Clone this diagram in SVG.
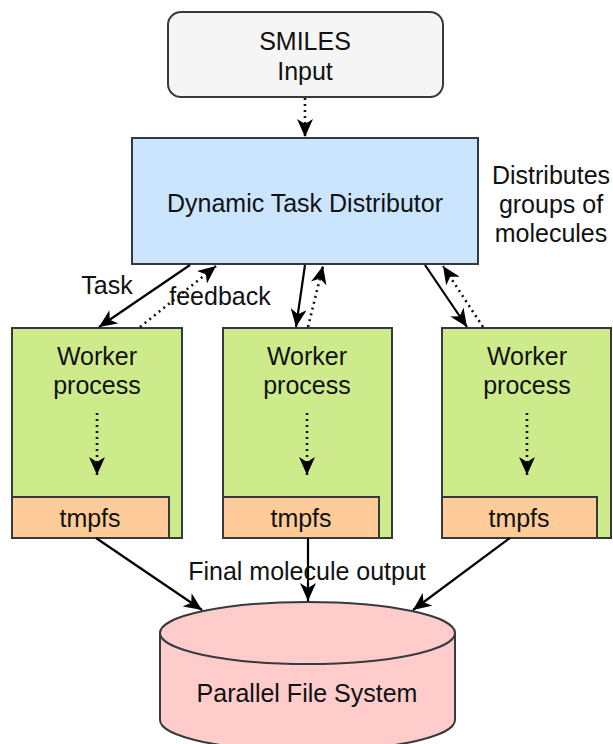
<svg xmlns="http://www.w3.org/2000/svg" width="613" height="744" viewBox="0 0 613 744">
<defs>
<style>
text{font-family:"Liberation Sans",Arial,Helvetica,sans-serif;font-size:25px;fill:#111;text-anchor:middle}
.box{stroke:#36393d;stroke-width:2}
.solid{fill:none;stroke:#000;stroke-width:2.2}
.dot{fill:none;stroke:#111;stroke-width:2.6;stroke-dasharray:2 4}
</style>
<marker id="ah" markerUnits="userSpaceOnUse" markerWidth="20" markerHeight="16" viewBox="0 0 20 16" refX="18" refY="8" orient="auto">
<path d="M0,0 L18,8 L0,16 L5,8 z" fill="#000"/>
</marker>
</defs>
<rect width="613" height="744" fill="#fff"/>

<g id="smiles">
<rect class="box" x="168" y="12" width="275" height="85" rx="13" fill="#f5f5f5" stroke="#4a4a4a"/>
<text x="305" y="50">SMILES</text>
<text x="305" y="80">Input</text>
</g>

<g id="distributor">
<rect class="box" x="132" y="138" width="346" height="126" fill="#cce5ff"/>
<text x="305" y="212">Dynamic Task Distributor</text>
</g>

<g id="note">
<text x="551" y="184">Distributes</text>
<text x="551" y="213">groups of</text>
<text x="551" y="242">molecules</text>
</g>

<g id="worker1">
<rect class="box" x="12" y="328" width="170" height="210" fill="#cdeb8b"/>
<text x="97" y="365">Worker</text>
<text x="97" y="394">process</text>
<rect class="box" x="12" y="497" width="157" height="41" fill="#ffcc99"/>
<text x="90" y="527">tmpfs</text>
<line class="dot" x1="97" y1="413" x2="97" y2="475" marker-end="url(#ah)"/>
</g>

<g id="worker2">
<rect class="box" x="223" y="328" width="169" height="210" fill="#cdeb8b"/>
<text x="307" y="365">Worker</text>
<text x="307" y="394">process</text>
<rect class="box" x="223" y="497" width="156" height="41" fill="#ffcc99"/>
<text x="301" y="527">tmpfs</text>
<line class="dot" x1="307" y1="413" x2="307" y2="475" marker-end="url(#ah)"/>
</g>

<g id="worker3">
<rect class="box" x="442" y="328" width="169" height="210" fill="#cdeb8b"/>
<text x="527" y="365">Worker</text>
<text x="527" y="394">process</text>
<rect class="box" x="442" y="497" width="155" height="41" fill="#ffcc99"/>
<text x="519" y="527">tmpfs</text>
<line class="dot" x1="527" y1="413" x2="527" y2="475" marker-end="url(#ah)"/>
</g>

<g id="pfs">
<path class="box" d="M160,633 L160,720 A147.5,31 0 0 0 455,720 L455,633 A147.5,31 0 0 0 160,633 Z" fill="#ffcccc"/>
<path class="box" d="M160,633 A147.5,31 0 0 0 455,633" fill="none"/>
<text x="307" y="702">Parallel File System</text>
</g>

<g id="connectors">
<line class="dot" x1="305" y1="98" x2="305" y2="137" marker-end="url(#ah)"/>
<line class="solid" x1="190" y1="265" x2="99" y2="327" marker-end="url(#ah)"/>
<line class="dot" x1="140" y1="327" x2="216" y2="266" marker-end="url(#ah)"/>
<line class="solid" x1="305" y1="265" x2="296" y2="327" marker-end="url(#ah)"/>
<line class="dot" x1="308" y1="327" x2="323" y2="266" marker-end="url(#ah)"/>
<line class="solid" x1="425" y1="265" x2="467" y2="327" marker-end="url(#ah)"/>
<line class="dot" x1="483" y1="327" x2="443" y2="266" marker-end="url(#ah)"/>
<line class="solid" x1="96" y1="538" x2="202" y2="610" marker-end="url(#ah)"/>
<line class="solid" x1="308" y1="538" x2="308" y2="601" marker-end="url(#ah)"/>
<line class="solid" x1="510" y1="538" x2="413" y2="610" marker-end="url(#ah)"/>
<text x="107" y="294">Task</text>
<text x="220" y="305">feedback</text>
<text x="307" y="580">Final molecule output</text>
</g>
</svg>
